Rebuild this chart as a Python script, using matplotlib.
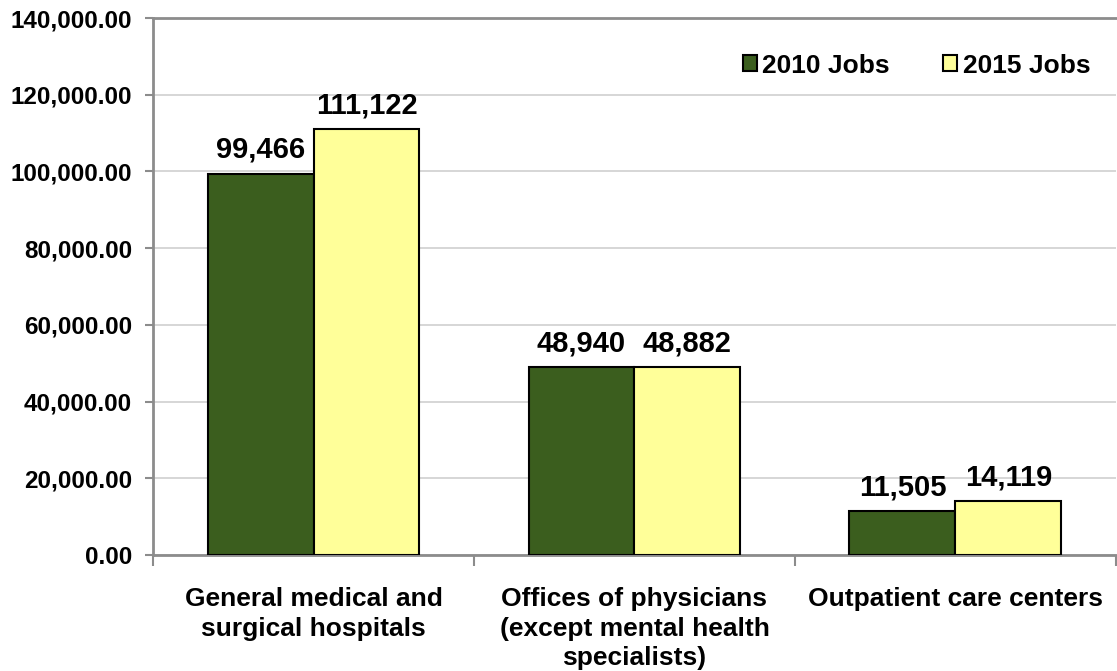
import numpy as np
import matplotlib
matplotlib.use('Agg')
import matplotlib.pyplot as plt
from matplotlib.ticker import FuncFormatter, FixedLocator

plt.rcParams['font.family'] = ['Liberation Sans', 'DejaVu Sans']
plt.rcParams['font.weight'] = 'bold'

categories = ['General medical and\nsurgical hospitals',
              'Offices of physicians\n(except mental health\nspecialists)',
              'Outpatient care centers']
jobs_2010 = [99466, 48940, 11505]
jobs_2015 = [111122, 48882, 14119]
series_names = ['2010 Jobs', '2015 Jobs']

green = '#3B5E1E'
yellow = '#FFFF99'
axis_gray = '#8C8C8C'

fig = plt.figure(figsize=(11.17, 6.71), dpi=100)
ax = fig.add_axes([0.137, 0.173, 0.862, 0.8])

x = np.arange(len(categories))
w = 0.33
b1 = ax.bar(x - w / 2, jobs_2010, w, color=green, edgecolor='black', linewidth=1.5,
            label=series_names[0], zorder=3)
b2 = ax.bar(x + w / 2, jobs_2015, w, color=yellow, edgecolor='black', linewidth=1.5,
            label=series_names[1], zorder=3)

for bars in (b1, b2):
    for r in bars:
        ax.annotate('{:,}'.format(int(r.get_height())),
                    (r.get_x() + r.get_width() / 2, r.get_height()),
                    xytext=(0, 7), textcoords='offset points',
                    ha='center', va='bottom', fontsize=21, fontweight='bold')

ax.set_ylim(0, 140000)
ax.set_xlim(-0.5, 2.5)
ax.set_yticks(np.arange(0, 140001, 20000))
ax.yaxis.set_major_formatter(FuncFormatter(lambda v, p: '{:,.2f}'.format(v)))
ax.tick_params(axis='y', labelsize=17.5, length=6, width=1.5, color=axis_gray, pad=9)
ax.grid(axis='y', color='#D0D0D0', linewidth=1.2, zorder=0)

# category ticks at group boundaries, labels at centers
ax.xaxis.set_major_locator(FixedLocator([-0.5, 0.5, 1.5, 2.5]))
ax.xaxis.set_major_formatter(FuncFormatter(lambda v, p: ''))
ax.xaxis.set_minor_locator(FixedLocator(x))
ax.set_xticklabels(categories, minor=True, fontsize=19, fontweight='bold',
                   linespacing=1.3)
ax.tick_params(axis='x', which='major', length=8, width=1.5, color=axis_gray)
ax.tick_params(axis='x', which='minor', length=0, pad=23)

for s in ['left', 'bottom', 'top']:
    ax.spines[s].set_color(axis_gray)
    ax.spines[s].set_linewidth(2)
ax.spines['right'].set_visible(False)

leg = ax.legend(loc='upper right', bbox_to_anchor=(0.998, 0.978), ncol=2, frameon=False,
                handlelength=0.55, handleheight=0.55, handletextpad=0.2,
                columnspacing=2.0, prop={'weight': 'bold', 'size': 19})

fig.savefig('out.png', dpi=100)
